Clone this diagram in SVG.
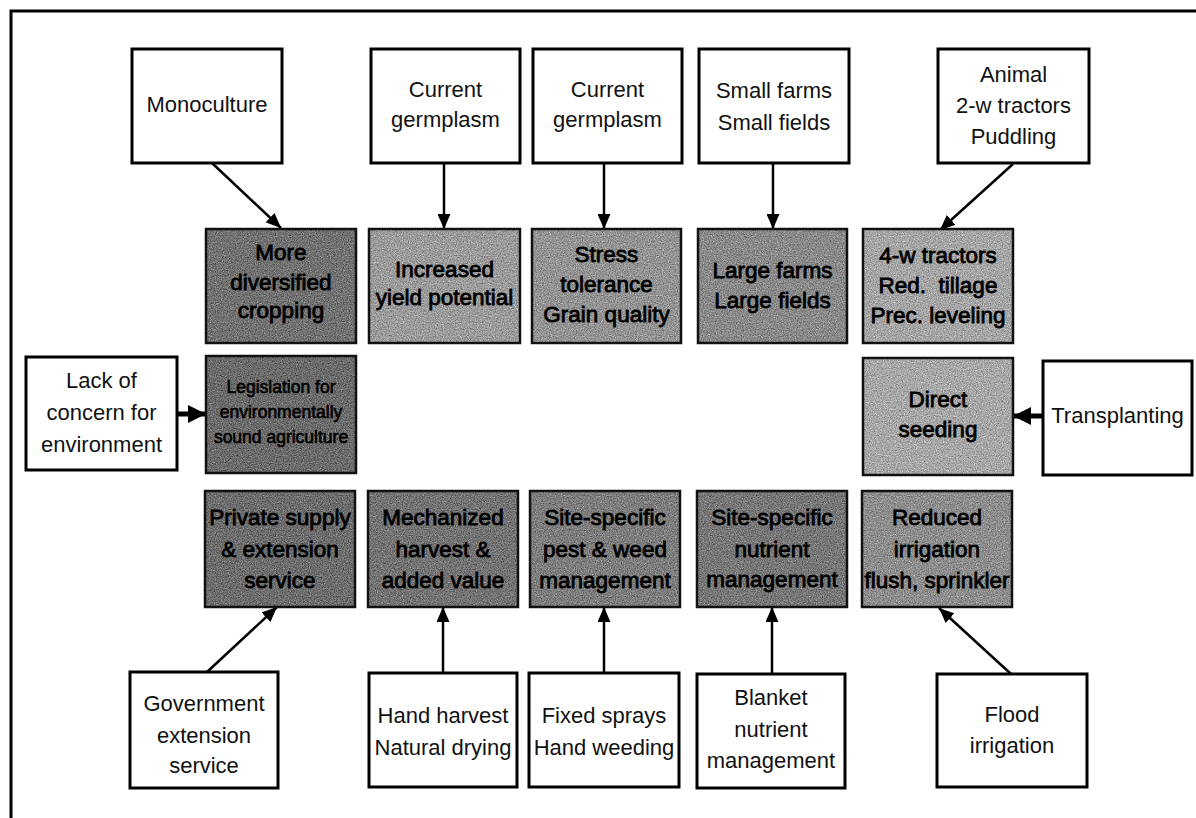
<svg xmlns="http://www.w3.org/2000/svg" width="1196" height="818" viewBox="0 0 1196 818">
<style>
.wb{fill:#fff;stroke:#000;stroke-width:3}
.gs{fill:none;stroke:#111;stroke-width:2.5}
.t{font-family:"Liberation Sans",Arial,Helvetica,sans-serif;font-size:22px;fill:#111;text-anchor:middle}
.g{font-family:"Liberation Sans",Arial,Helvetica,sans-serif;font-size:22.5px;fill:#000;stroke:#000;stroke-width:0.8;text-anchor:middle;white-space:pre}
.gl{font-family:"Liberation Sans",Arial,Helvetica,sans-serif;font-size:17.5px;fill:#000;stroke:#000;stroke-width:0.6;text-anchor:middle}
.c{fill:none;stroke:#000;stroke-width:2.5}
.ct{fill:none;stroke:#000;stroke-width:5}
</style>
<defs>
<filter id="grain" x="0" y="0" width="1" height="1" filterUnits="objectBoundingBox" color-interpolation-filters="sRGB">
<feTurbulence type="fractalNoise" baseFrequency="0.85" numOctaves="2" seed="4" result="t"/>
<feColorMatrix in="t" type="matrix" values="0.33 0.33 0.33 0 0 0.33 0.33 0.33 0 0 0.33 0.33 0.33 0 0 0 0 0 0 1" result="n"/>
<feComposite in="n" in2="SourceGraphic" operator="arithmetic" k1="0" k2="0.9" k3="1" k4="-0.45"/>
</filter>
<marker id="ah" markerUnits="userSpaceOnUse" markerWidth="15" markerHeight="13" refX="15" refY="6.5" orient="auto">
<path d="M0,0 L15,6.5 L0,13 z" fill="#000"/>
</marker>
<marker id="ahb" markerUnits="userSpaceOnUse" markerWidth="18" markerHeight="18" refX="18" refY="9" orient="auto">
<path d="M0,0 L18,9 L0,18 z" fill="#000"/>
</marker>
</defs>
<rect width="1196" height="818" fill="#fff"/>
<path d="M11,818 V11 H1196" fill="none" stroke="#000" stroke-width="3"/>

<g id="connectors">
<path class="c" d="M212,163 L281,228" marker-end="url(#ah)"/>
<path class="c" d="M444,163 V229" marker-end="url(#ah)"/>
<path class="c" d="M604,163 V229" marker-end="url(#ah)"/>
<path class="c" d="M773,163 V229" marker-end="url(#ah)"/>
<path class="c" d="M1013,164 L940,230" marker-end="url(#ah)"/>
<path class="ct" d="M177,414 H206" marker-end="url(#ahb)"/>
<path class="ct" d="M1043,416 H1013" marker-end="url(#ahb)"/>
<path class="c" d="M207,672 L277,607" marker-end="url(#ah)"/>
<path class="c" d="M443,673 V607" marker-end="url(#ah)"/>
<path class="c" d="M604,673 V607" marker-end="url(#ah)"/>
<path class="c" d="M772,674 V607" marker-end="url(#ah)"/>
<path class="c" d="M1011,674 L939,608" marker-end="url(#ah)"/>
</g>

<g id="n-monoculture"><rect class="wb" x="132" y="49" width="150" height="114"/><text class="t" x="207" y="112">Monoculture</text></g>
<g id="n-germplasm1"><rect class="wb" x="371" y="49" width="149" height="114"/><text class="t" x="445.5" y="97">Current</text><text class="t" x="445.5" y="127">germplasm</text></g>
<g id="n-germplasm2"><rect class="wb" x="533" y="49" width="149" height="114"/><text class="t" x="607.5" y="97">Current</text><text class="t" x="607.5" y="127">germplasm</text></g>
<g id="n-smallfarms"><rect class="wb" x="699" y="49" width="150" height="114"/><text class="t" x="774" y="98">Small farms</text><text class="t" x="774" y="130">Small fields</text></g>
<g id="n-animal"><rect class="wb" x="938" y="49" width="151" height="114"/><text class="t" x="1013.5" y="82">Animal</text><text class="t" x="1013.5" y="113">2-w tractors</text><text class="t" x="1013.5" y="144">Puddling</text></g>
<g id="n-lack"><rect class="wb" x="26" y="357" width="151" height="113"/><text class="t" x="101.5" y="388">Lack of</text><text class="t" x="101.5" y="420">concern for</text><text class="t" x="101.5" y="452">environment</text></g>
<g id="n-transplanting"><rect class="wb" x="1043" y="361" width="149" height="114"/><text class="t" x="1117.5" y="423">Transplanting</text></g>
<g id="n-government"><rect class="wb" x="130" y="672" width="148" height="116"/><text class="t" x="204" y="711">Government</text><text class="t" x="204" y="743">extension</text><text class="t" x="204" y="773">service</text></g>
<g id="n-handharvest"><rect class="wb" x="369" y="673" width="148" height="114"/><text class="t" x="443" y="723">Hand harvest</text><text class="t" x="443" y="755">Natural drying</text></g>
<g id="n-fixedsprays"><rect class="wb" x="529" y="673" width="150" height="114"/><text class="t" x="604" y="723">Fixed sprays</text><text class="t" x="604" y="755">Hand weeding</text></g>
<g id="n-blanket"><rect class="wb" x="697" y="674" width="148" height="114"/><text class="t" x="771" y="705">Blanket</text><text class="t" x="771" y="737">nutrient</text><text class="t" x="771" y="768">management</text></g>
<g id="n-flood"><rect class="wb" x="937" y="674" width="150" height="113"/><text class="t" x="1012" y="722">Flood</text><text class="t" x="1012" y="753">irrigation</text></g>

<g id="n-diversified"><rect x="206" y="229" width="150" height="114" fill="#727272" filter="url(#grain)"/><rect class="gs" x="206" y="229" width="150" height="114"/><text class="g" x="281" y="260">More</text><text class="g" x="281" y="290">diversified</text><text class="g" x="281" y="318">cropping</text></g>
<g id="n-yield"><rect x="369" y="229" width="151" height="114" fill="#9c9c9c" filter="url(#grain)"/><rect class="gs" x="369" y="229" width="151" height="114"/><text class="g" x="444.5" y="277">Increased</text><text class="g" x="444.5" y="305">yield potential</text></g>
<g id="n-stress"><rect x="532" y="229" width="149" height="114" fill="#949494" filter="url(#grain)"/><rect class="gs" x="532" y="229" width="149" height="114"/><text class="g" x="606.5" y="262">Stress</text><text class="g" x="606.5" y="292">tolerance</text><text class="g" x="606.5" y="322">Grain quality</text></g>
<g id="n-largefarms"><rect x="698" y="229" width="149" height="114" fill="#8a8a8a" filter="url(#grain)"/><rect class="gs" x="698" y="229" width="149" height="114"/><text class="g" x="772.5" y="278">Large farms</text><text class="g" x="772.5" y="308">Large fields</text></g>
<g id="n-4wtractors"><rect x="863" y="229" width="150" height="114" fill="#a6a6a6" filter="url(#grain)"/><rect class="gs" x="863" y="229" width="150" height="114"/><text class="g" x="938" y="263">4-w tractors</text><text class="g" x="938" y="293">Red.  tillage</text><text class="g" x="938" y="323">Prec. leveling</text></g>
<g id="n-legislation"><rect x="206" y="356" width="150" height="117" fill="#6c6c6c" filter="url(#grain)"/><rect class="gs" x="206" y="356" width="150" height="117"/><text class="gl" x="281" y="393">Legislation for</text><text class="gl" x="281" y="418">environmentally</text><text class="gl" x="281" y="443">sound agriculture</text></g>
<g id="n-directseeding"><rect x="863" y="358" width="150" height="117" fill="#a8a8a8" filter="url(#grain)"/><rect class="gs" x="863" y="358" width="150" height="117"/><text class="g" x="938" y="407">Direct</text><text class="g" x="938" y="437">seeding</text></g>
<g id="n-private"><rect x="205" y="491" width="150" height="116" fill="#6e6e6e" filter="url(#grain)"/><rect class="gs" x="205" y="491" width="150" height="116"/><text class="g" x="280" y="525">Private supply</text><text class="g" x="280" y="557">&amp; extension</text><text class="g" x="280" y="588">service</text></g>
<g id="n-mechanized"><rect x="368" y="491" width="150" height="116" fill="#747474" filter="url(#grain)"/><rect class="gs" x="368" y="491" width="150" height="116"/><text class="g" x="443" y="525">Mechanized</text><text class="g" x="443" y="557">harvest &amp;</text><text class="g" x="443" y="588">added value</text></g>
<g id="n-pestweed"><rect x="530" y="491" width="150" height="116" fill="#7e7e7e" filter="url(#grain)"/><rect class="gs" x="530" y="491" width="150" height="116"/><text class="g" x="605" y="525">Site-specific</text><text class="g" x="605" y="557">pest &amp; weed</text><text class="g" x="605" y="588">management</text></g>
<g id="n-nutrient"><rect x="697" y="491" width="150" height="116" fill="#787878" filter="url(#grain)"/><rect class="gs" x="697" y="491" width="150" height="116"/><text class="g" x="772" y="525">Site-specific</text><text class="g" x="772" y="557">nutrient</text><text class="g" x="772" y="587">management</text></g>
<g id="n-reducedirrigation"><rect x="862" y="491" width="150" height="116" fill="#8e8e8e" filter="url(#grain)"/><rect class="gs" x="862" y="491" width="150" height="116"/><text class="g" x="937" y="525">Reduced</text><text class="g" x="937" y="557">irrigation</text><text class="g" x="937" y="588">flush, sprinkler</text></g>
</svg>
